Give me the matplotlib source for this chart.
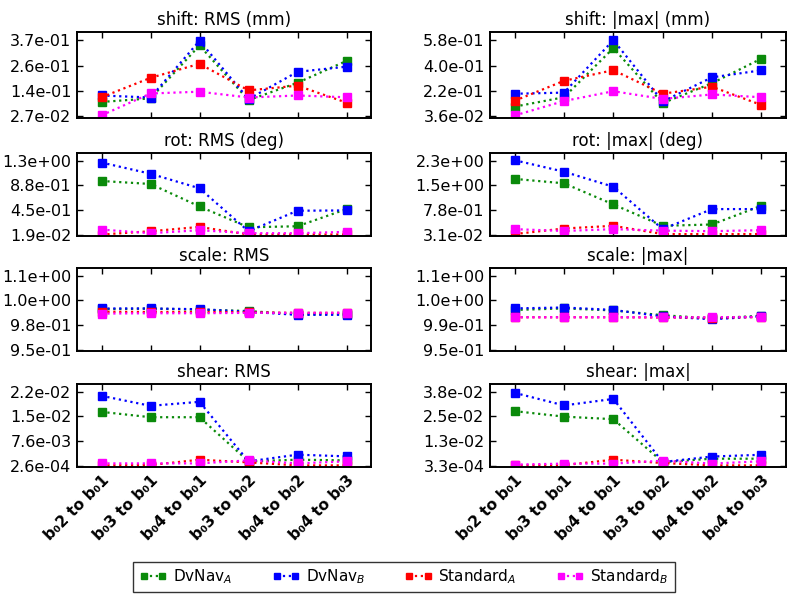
import numpy as np
import matplotlib
matplotlib.use("Agg")
import matplotlib.pyplot as plt

# ----------------------------- data ------------------------------------------
CATEGORIES = ["b\u20802 to b\u20801", "b\u20803 to b\u20801", "b\u20804 to b\u20801",
              "b\u20803 to b\u20802", "b\u20804 to b\u20802", "b\u20804 to b\u20803"]

SERIES_NAMES  = [r"DvNav$_A$", r"DvNav$_B$", r"Standard$_A$", r"Standard$_B$"]
SERIES_COLORS = ["#0a8a0a", "#0000ff", "#ff0000", "#ff00ff"]

TITLES = ["shift: RMS (mm)", "shift: |max| (mm)",
          "rot: RMS (deg)", "rot: |max| (deg)",
          "scale: RMS", "scale: |max|",
          "shear: RMS", "shear: |max|"]

# per panel: [DvNav_A, DvNav_B, Standard_A, Standard_B]
shift_rms = [[0.092, 0.108, 0.345, 0.100, 0.178, 0.276],
             [0.121, 0.112, 0.366, 0.105, 0.227, 0.250],
             [0.113, 0.200, 0.263, 0.144, 0.165, 0.089],
             [0.032, 0.130, 0.138, 0.112, 0.121, 0.113]]
shift_max = [[0.106, 0.173, 0.523, 0.131, 0.273, 0.448],
             [0.198, 0.206, 0.580, 0.143, 0.315, 0.365],
             [0.148, 0.290, 0.366, 0.198, 0.248, 0.118],
             [0.043, 0.146, 0.216, 0.161, 0.193, 0.173]]
rot_rms = [[0.950, 0.898, 0.507, 0.145, 0.163, 0.461],
           [1.271, 1.076, 0.823, 0.076, 0.433, 0.438],
           [0.019, 0.076, 0.151, 0.020, 0.020, 0.020],
           [0.105, 0.042, 0.094, 0.042, 0.042, 0.065]]
rot_max = [[1.730, 1.595, 0.950, 0.297, 0.338, 0.910],
           [2.300, 1.950, 1.490, 0.195, 0.808, 0.808],
           [0.045, 0.215, 0.297, 0.045, 0.045, 0.045],
           [0.195, 0.140, 0.195, 0.150, 0.133, 0.164]]
scale_rms = [[1.0050, 1.0058, 1.0045, 1.0025, 0.9980, 0.9980],
             [1.0060, 1.0060, 1.0050, 1.0015, 0.9973, 0.9975],
             [1.0015, 1.0012, 1.0012, 1.0008, 1.0000, 1.0000],
             [0.9990, 0.9995, 0.9995, 1.0000, 1.0000, 1.0002]]
scale_max = [[1.0080, 1.0103, 1.0073, 1.0003, 0.9956, 0.9995],
             [1.0103, 1.0116, 1.0080, 0.9986, 0.9943, 0.9986],
             [0.9973, 0.9973, 0.9973, 0.9970, 0.9968, 0.9975],
             [0.9973, 0.9973, 0.9973, 0.9973, 0.9973, 0.9978]]
shear_rms = [[0.0163, 0.0147, 0.0147, 0.0015, 0.0020, 0.0018],
             [0.0211, 0.0181, 0.0193, 0.0015, 0.0035, 0.0030],
             [0.0003, 0.0004, 0.0020, 0.0012, 0.0003, 0.0003],
             [0.0009, 0.0009, 0.0009, 0.0018, 0.0009, 0.0015]]
shear_max = [[0.0280, 0.0252, 0.0239, 0.0021, 0.0038, 0.0038],
             [0.0373, 0.0309, 0.0342, 0.0021, 0.0049, 0.0058],
             [0.0004, 0.0005, 0.0033, 0.0016, 0.0004, 0.0004],
             [0.0008, 0.0013, 0.0013, 0.0028, 0.0013, 0.0025]]

PANEL_DATA = [shift_rms, shift_max, rot_rms, rot_max,
              scale_rms, scale_max, shear_rms, shear_max]

# lowest / highest labelled tick and the tick labels
TICK_RANGE = [(0.027, 0.369), (0.036, 0.580),
              (0.019, 1.300), (0.031, 2.281),
              (0.950, 1.0505), (0.950, 1.058),
              (0.00026, 0.02228), (0.00033, 0.0378)]
TICK_LABELS = [["2.7e-02", "1.4e-01", "2.6e-01", "3.7e-01"],
               ["3.6e-02", "2.2e-01", "4.0e-01", "5.8e-01"],
               ["1.9e-02", "4.5e-01", "8.8e-01", "1.3e+00"],
               ["3.1e-02", "7.8e-01", "1.5e+00", "2.3e+00"],
               ["9.5e-01", "9.8e-01", "1.0e+00", "1.1e+00"],
               ["9.5e-01", "9.9e-01", "1.0e+00", "1.1e+00"],
               ["2.6e-04", "7.6e-03", "1.5e-02", "2.2e-02"],
               ["3.3e-04", "1.3e-02", "2.5e-02", "3.8e-02"]]

# ----------------------------- layout ----------------------------------------
W, H = 800, 596
COL_X  = [(77, 371), (490, 786)]              # pixel left/right of axes
ROW_Y  = [(32, 118), (153, 236), (268, 351), (384, 467)]  # pixel top/bottom

plt.rcParams['font.family'] = ['DejaVu Sans']

fig = plt.figure(figsize=(W / 100, H / 100), dpi=100)
x = np.arange(len(CATEGORIES))

axes = []
for i, data in enumerate(PANEL_DATA):
    row, col = divmod(i, 2)
    x0, x1 = COL_X[col]
    y0, y1 = ROW_Y[row]
    ax = fig.add_axes([x0 / W, 1 - y1 / H, (x1 - x0) / W, (y1 - y0) / H])
    axes.append(ax)

    for vals, name, c in zip(data, SERIES_NAMES, SERIES_COLORS):
        ax.plot(x, vals, linestyle=':', linewidth=1.6, color=c,
                marker='s', markersize=5.5, label=name)

    lo, hi = TICK_RANGE[i]
    ticks = np.linspace(lo, hi, 4)
    step = ticks[1] - ticks[0]
    ax.set_ylim(lo - 0.06 * step, lo + 3.32 * step)
    ax.set_yticks(ticks)
    ax.set_yticklabels(TICK_LABELS[i], fontsize=11.5)
    ax.set_xlim(-0.5, len(CATEGORIES) - 0.5)
    ax.set_xticks(x)
    if row == 3:
        ax.set_xticklabels(CATEGORIES, rotation=45, ha='right',
                           rotation_mode='anchor', fontweight='bold', fontsize=11)
    else:
        ax.set_xticklabels([])
    ax.tick_params(direction='in', top=True, right=True, length=4, width=1, pad=4)
    for s in ax.spines.values():
        s.set_linewidth(1.4)
    ax.set_title(TITLES[i], fontsize=12, pad=5)

handles, labels = axes[0].get_legend_handles_labels()
leg = fig.legend(handles, labels, loc='center', ncol=4,
                 bbox_to_anchor=(404 / W, 1 - 577 / H), fontsize=11,
                 frameon=True, fancybox=False, edgecolor='black',
                 handlelength=1.8, columnspacing=2.6, numpoints=2,
                 markerscale=0.8, borderpad=0.4, handletextpad=0.4)
leg.get_frame().set_linewidth(1.0)

fig.savefig("out.png", dpi=100)
